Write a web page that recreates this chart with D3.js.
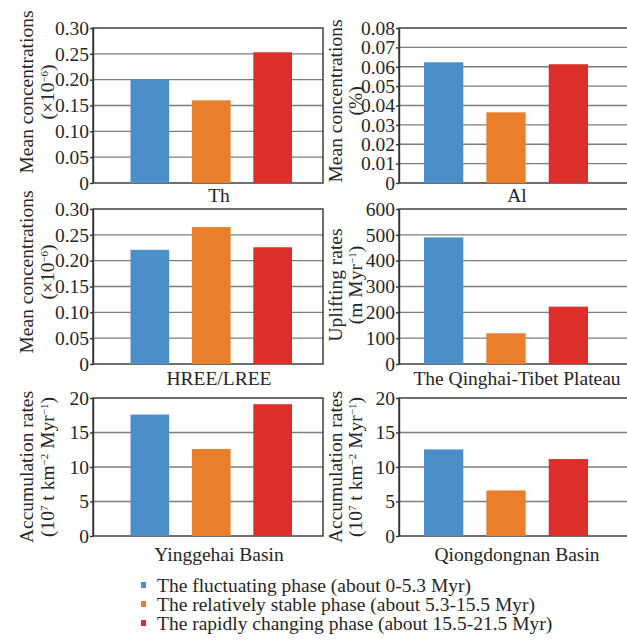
<!DOCTYPE html>
<html>
<head>
<meta charset="utf-8">
<script src="https://cdn.jsdelivr.net/npm/d3@7"></script>
<style>
  body { margin: 0; background: #fff; }
  svg { display: block; }
  text { font-family: "Liberation Serif", "Times New Roman", serif; fill: #262626; }
</style>
</head>
<body>
<div id="chart"></div>
<script>
// phases (legend)
var phases = ["The fluctuating phase (about 0-5.3 Myr)",
              "The relatively stable phase (about 5.3-15.5 Myr)",
              "The rapidly changing phase (about 15.5-21.5 Myr)"];
var colors = ["#4a8fc8", "#e97f2b", "#dc2f29"];

// values per panel, in phase order
var thValues = [0.200, 0.160, 0.253];
var alValues = [0.0623, 0.0365, 0.0613];
var reeValues = [0.221, 0.265, 0.226];
var upliftValues = [490, 119, 222];
var yinggehaiValues = [17.6, 12.6, 19.1];
var qiongValues = [12.55, 6.6, 11.15];

// tick labels
var concTicks = [0, 0.05, 0.10, 0.15, 0.20, 0.25, 0.30];
var alTicks = [0, 0.01, 0.02, 0.03, 0.04, 0.05, 0.06, 0.07, 0.08];
var upliftTicks = [0, 100, 200, 300, 400, 500, 600];
var accumTicks = [0, 5, 10, 15, 20];

var W = 627, H = 640;
var FS = "19.5px";
var svg = d3.select("#chart").append("svg")
    .attr("width", W).attr("height", H);

var fmt2 = function (d) { return d === 0 ? "0" : d3.format(".2f")(d); };
var fmtInt = d3.format("d");

// column / row geometry
var cols = [{ x0: 93, lab1: 33, lab2: 54, xlab: 219 },
            { x0: 399, lab1: 342, lab2: 362, xlab: 517 }];
var rows = [{ y0: 28, y1: 183, xlabY: 202 },
            { y0: 209, y1: 364, xlabY: 385 },
            { y0: 398, y1: 536, xlabY: 561 }];
var panelW = 230;

var panels = [
    { col: 0, row: 0, values: thValues, ticks: concTicks, fmt: fmt2, name: "Th",
      ylab1: [["Mean concentrations"]], ylab2: [["(×10"], ["−6", "sup"], [")"]], ylabC: 92 },
    { col: 1, row: 0, values: alValues, ticks: alTicks, fmt: fmt2, name: "Al",
      ylab1: [["Mean concentrations"]], ylab2: [["(%)"]], ylabC: 101 },
    { col: 0, row: 1, values: reeValues, ticks: concTicks, fmt: fmt2, name: "HREE/LREE",
      ylab1: [["Mean concentrations"]], ylab2: [["(×10"], ["−6", "sup"], [")"]], ylabC: 272 },
    { col: 1, row: 1, values: upliftValues, ticks: upliftTicks, fmt: fmtInt, name: "The Qinghai-Tibet Plateau",
      ylab1: [["Uplifting rates"]], ylab2: [["(m Myr"], ["−1", "sup"], [")"]], ylabC: 285 },
    { col: 0, row: 2, values: yinggehaiValues, ticks: accumTicks, fmt: fmtInt, name: "Yinggehai Basin",
      ylab1: [["Accumulation rates"]], ylab2: [["(10"], ["7", "sup"], [" t km"], ["−2", "sup"], [" Myr"], ["−1", "sup"], [")"]], ylabC: 467 },
    { col: 1, row: 2, values: qiongValues, ticks: accumTicks, fmt: fmtInt, name: "Qiongdongnan Basin",
      ylab1: [["Accumulation rates"]], ylab2: [["(10"], ["7", "sup"], [" t km"], ["−2", "sup"], [" Myr"], ["−1", "sup"], [")"]], ylabC: 467 }
];

function addRich(sel, parts) {
    parts.forEach(function (p) {
        var t = sel.append("tspan").text(p[0]);
        if (p[1] === "sup") {
            t.attr("baseline-shift", "6px").style("font-size", "11px");
        }
    });
}

panels.forEach(function (p) {
    var c = cols[p.col], r = rows[p.row];
    var g = svg.append("g").attr("transform", "translate(" + c.x0 + "," + r.y0 + ")");
    var h = r.y1 - r.y0;

    var y = d3.scaleLinear()
        .domain([0, p.ticks[p.ticks.length - 1]])
        .range([h, 0]);
    var x = d3.scaleBand()
        .domain(d3.range(p.values.length))
        .range(p.col === 0 ? [37.5, 199] : [25, 189])
        .paddingInner(0.37);

    // gridlines
    g.append("g")
        .selectAll("line")
        .data(p.ticks.slice(1, -1))
        .join("line")
            .attr("x1", 0).attr("x2", panelW)
            .attr("y1", d => y(d)).attr("y2", d => y(d))
            .attr("stroke", "#7d7d7d")
            .attr("stroke-width", 1.4);

    // frame
    g.append("rect")
        .attr("x", 0).attr("y", 0)
        .attr("width", panelW).attr("height", h)
        .attr("fill", "none")
        .attr("stroke", "#333")
        .attr("stroke-width", 1.4);

    // bars
    g.append("g")
        .selectAll("rect")
        .data(p.values)
        .join("rect")
            .attr("x", (d, i) => x(i))
            .attr("width", x.bandwidth())
            .attr("y", d => y(d))
            .attr("height", d => h - y(d))
            .attr("fill", (d, i) => colors[i]);

    // y axis
    var ax = g.append("g")
        .call(d3.axisLeft(y).tickValues(p.ticks).tickFormat(p.fmt)
            .tickSize(3).tickPadding(1).tickSizeOuter(0));
    ax.select(".domain").attr("stroke", "#333").attr("stroke-width", 1.4);
    ax.selectAll(".tick line").attr("stroke", "#333").attr("stroke-width", 1.4);
    ax.selectAll(".tick text")
        .style("font-family", '"Liberation Serif", serif')
        .style("font-size", FS)
        .attr("fill", "#262626");

    // category label
    svg.append("text")
        .attr("x", c.xlab).attr("y", r.xlabY)
        .attr("text-anchor", "middle")
        .style("font-size", FS)
        .text(p.name);

    // y axis title (two lines)
    var t1 = svg.append("text")
        .attr("transform", "translate(" + c.lab1 + "," + p.ylabC + ") rotate(-90)")
        .attr("text-anchor", "middle")
        .style("font-size", FS);
    addRich(t1, p.ylab1);
    var t2 = svg.append("text")
        .attr("transform", "translate(" + c.lab2 + "," + p.ylabC + ") rotate(-90)")
        .attr("text-anchor", "middle")
        .style("font-size", FS);
    addRich(t2, p.ylab2);
});

// legend
var legend = svg.append("g");
var legY = d3.scaleOrdinal().domain(phases).range([592, 611, 630]);
phases.forEach(function (ph, i) {
    legend.append("rect")
        .attr("x", 141).attr("y", legY(ph) - 10)
        .attr("width", 5).attr("height", 6)
        .attr("fill", colors[i]);
    legend.append("text")
        .attr("x", 157).attr("y", legY(ph))
        .style("font-size", FS)
        .text(ph);
});
</script>
</body>
</html>
